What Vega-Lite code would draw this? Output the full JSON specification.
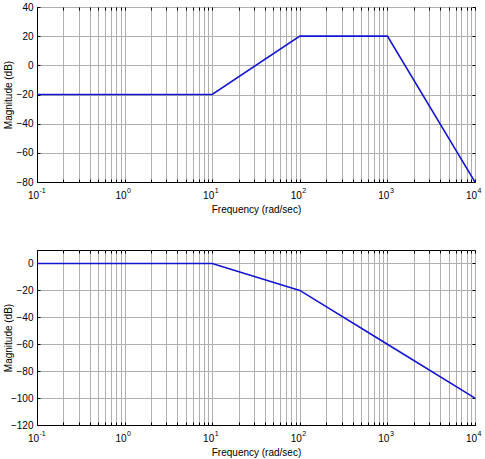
{
  "$schema": "https://vega.github.io/schema/vega-lite/v6.json",
  "padding": {"left": 2, "top": 1, "right": 2, "bottom": 0},
  "background": "white",
  "datasets": {
    "stageA": [
      {"freq": 0.1, "mag": -20},
      {"freq": 10, "mag": -20},
      {"freq": 100, "mag": 20},
      {"freq": 1000, "mag": 20},
      {"freq": 10000, "mag": -80}
    ],
    "stageB": [
      {"freq": 0.1, "mag": 0},
      {"freq": 10, "mag": 0},
      {"freq": 100, "mag": -20},
      {"freq": 1000, "mag": -60},
      {"freq": 10000, "mag": -100}
    ]
  },
  "config": {
    "font": "Liberation Sans",
    "view": {"stroke": "#000000", "strokeWidth": 1},
    "axis": {
      "labelFont": "Liberation Sans",
      "titleFont": "Liberation Sans",
      "labelFontSize": 10,
      "titleFontSize": 10,
      "titleFontWeight": "normal",
      "labelColor": "#000000",
      "titleColor": "#000000",
      "domainColor": "#000000",
      "tickColor": "#000000",
      "gridColor": "#b0b0b0",
      "gridOpacity": 1,
      "gridWidth": 1
    }
  },
  "spacing": 34,
  "vconcat": [
    {
      "width": 438,
      "height": 175,
      "data": {"name": "stageA"},
      "layer": [
        {
          "mark": {"type": "line", "color": "#1414d2", "strokeWidth": 1.6, "clip": true},
          "encoding": {
            "x": {
              "field": "freq", "type": "quantitative",
              "scale": {"type": "log", "domain": [0.1, 10000], "nice": false},
              "axis": {
                "orient": "bottom",
                "title": "Frequency (rad/sec)",
                "values": [0.1, 0.2, 0.3, 0.4, 0.5, 0.6, 0.7, 0.8, 0.9, 1, 2, 3, 4, 5, 6, 7, 8, 9, 10, 20, 30, 40, 50, 60, 70, 80, 90, 100, 200, 300, 400, 500, 600, 700, 800, 900, 1000, 2000, 3000, 4000, 5000, 6000, 7000, 8000, 9000, 10000],
                "labelExpr": "indexof([0.1, 1, 10, 100, 1000, 10000], datum.value) >= 0 ? '10' : ''",
                "labelAlign": "right",
                "labelOffset": 1.5,
                "labelBaseline": "alphabetic",
                "labelFlush": false,
                "labelOverlap": false,
                "labelBound": false,
                "tickSize": -3,
                "labelPadding": 19,
                "titlePadding": 4,
                "grid": true
              }
            },
            "y": {
              "field": "mag", "type": "quantitative",
              "scale": {"domain": [-80, 40], "nice": false, "zero": false},
              "axis": {
                "orient": "left",
                "title": "Magnitude (dB)",
                "titleX": -24,
                "titleY": 87.5,
                "values": [-80, -60, -40, -20, 0, 20, 40],
                "tickSize": -3,
                "labelPadding": 7,
                "grid": true
              }
            }
          }
        },
        {
          "mark": {"type": "line", "opacity": 0},
          "encoding": {
            "x": {
              "field": "freq", "type": "quantitative",
              "scale": {"type": "log", "domain": [0.1, 10000], "nice": false},
              "axis": {
                "orient": "top", "title": null, "labels": false, "grid": false, "domain": false,
                "values": [0.1, 0.2, 0.3, 0.4, 0.5, 0.6, 0.7, 0.8, 0.9, 1, 2, 3, 4, 5, 6, 7, 8, 9, 10, 20, 30, 40, 50, 60, 70, 80, 90, 100, 200, 300, 400, 500, 600, 700, 800, 900, 1000, 2000, 3000, 4000, 5000, 6000, 7000, 8000, 9000, 10000],
                "tickSize": -3
              }
            },
            "y": {
              "field": "mag", "type": "quantitative",
              "scale": {"domain": [-80, 40], "nice": false, "zero": false},
              "axis": {
                "orient": "right", "title": null, "labels": false, "grid": false, "domain": false,
                "values": [-80, -60, -40, -20, 0, 20, 40],
                "tickSize": -3
              }
            }
          }
        },
        {
          "mark": {"type": "line", "opacity": 0},
          "encoding": {
            "x": {
              "field": "freq", "type": "quantitative",
              "scale": {"type": "log", "domain": [0.1, 10000], "nice": false},
              "axis": {
                "orient": "bottom", "title": null, "grid": false, "domain": false,
                "values": [0.1, 1, 10, 100, 1000, 10000],
                "labelExpr": "datum.value == 0.1 ? '-1' : datum.value == 1 ? '0' : datum.value == 10 ? '1' : datum.value == 100 ? '2' : datum.value == 1000 ? '3' : '4'",
                "labelFontSize": 7,
                "labelAlign": "left",
                "labelOffset": 2,
                "labelBaseline": "alphabetic",
                "labelFlush": false,
                "labelOverlap": false,
                "labelBound": false,
                "ticks": true,
                "tickSize": 0,
                "labelPadding": 10
              }
            },
            "y": {
              "field": "mag", "type": "quantitative",
              "scale": {"domain": [-80, 40], "nice": false, "zero": false},
              "axis": null
            }
          }
        }
      ],
      "resolve": {
        "scale": {"x": "independent", "y": "independent"},
        "axis": {"x": "independent", "y": "independent"}
      }
    },
    {
      "width": 438,
      "height": 175,
      "data": {"name": "stageB"},
      "layer": [
        {
          "mark": {"type": "line", "color": "#1414d2", "strokeWidth": 1.6, "clip": true},
          "encoding": {
            "x": {
              "field": "freq", "type": "quantitative",
              "scale": {"type": "log", "domain": [0.1, 10000], "nice": false},
              "axis": {
                "orient": "bottom",
                "title": "Frequency (rad/sec)",
                "values": [0.1, 0.2, 0.3, 0.4, 0.5, 0.6, 0.7, 0.8, 0.9, 1, 2, 3, 4, 5, 6, 7, 8, 9, 10, 20, 30, 40, 50, 60, 70, 80, 90, 100, 200, 300, 400, 500, 600, 700, 800, 900, 1000, 2000, 3000, 4000, 5000, 6000, 7000, 8000, 9000, 10000],
                "labelExpr": "indexof([0.1, 1, 10, 100, 1000, 10000], datum.value) >= 0 ? '10' : ''",
                "labelAlign": "right",
                "labelOffset": 1.5,
                "labelBaseline": "alphabetic",
                "labelFlush": false,
                "labelOverlap": false,
                "labelBound": false,
                "tickSize": -3,
                "labelPadding": 19,
                "titlePadding": 4,
                "grid": true
              }
            },
            "y": {
              "field": "mag", "type": "quantitative",
              "scale": {"domain": [-120, 10], "nice": false, "zero": false},
              "axis": {
                "orient": "left",
                "title": "Magnitude (dB)",
                "titleX": -24,
                "titleY": 87.5,
                "values": [-120, -100, -80, -60, -40, -20, 0],
                "tickSize": -3,
                "labelPadding": 7,
                "grid": true
              }
            }
          }
        },
        {
          "mark": {"type": "line", "opacity": 0},
          "encoding": {
            "x": {
              "field": "freq", "type": "quantitative",
              "scale": {"type": "log", "domain": [0.1, 10000], "nice": false},
              "axis": {
                "orient": "top", "title": null, "labels": false, "grid": false, "domain": false,
                "values": [0.1, 0.2, 0.3, 0.4, 0.5, 0.6, 0.7, 0.8, 0.9, 1, 2, 3, 4, 5, 6, 7, 8, 9, 10, 20, 30, 40, 50, 60, 70, 80, 90, 100, 200, 300, 400, 500, 600, 700, 800, 900, 1000, 2000, 3000, 4000, 5000, 6000, 7000, 8000, 9000, 10000],
                "tickSize": -3
              }
            },
            "y": {
              "field": "mag", "type": "quantitative",
              "scale": {"domain": [-120, 10], "nice": false, "zero": false},
              "axis": {
                "orient": "right", "title": null, "labels": false, "grid": false, "domain": false,
                "values": [-120, -100, -80, -60, -40, -20, 0],
                "tickSize": -3
              }
            }
          }
        },
        {
          "mark": {"type": "line", "opacity": 0},
          "encoding": {
            "x": {
              "field": "freq", "type": "quantitative",
              "scale": {"type": "log", "domain": [0.1, 10000], "nice": false},
              "axis": {
                "orient": "bottom", "title": null, "grid": false, "domain": false,
                "values": [0.1, 1, 10, 100, 1000, 10000],
                "labelExpr": "datum.value == 0.1 ? '-1' : datum.value == 1 ? '0' : datum.value == 10 ? '1' : datum.value == 100 ? '2' : datum.value == 1000 ? '3' : '4'",
                "labelFontSize": 7,
                "labelAlign": "left",
                "labelOffset": 2,
                "labelBaseline": "alphabetic",
                "labelFlush": false,
                "labelOverlap": false,
                "labelBound": false,
                "ticks": true,
                "tickSize": 0,
                "labelPadding": 10
              }
            },
            "y": {
              "field": "mag", "type": "quantitative",
              "scale": {"domain": [-120, 10], "nice": false, "zero": false},
              "axis": null
            }
          }
        }
      ],
      "resolve": {
        "scale": {"x": "independent", "y": "independent"},
        "axis": {"x": "independent", "y": "independent"}
      }
    }
  ]
}
